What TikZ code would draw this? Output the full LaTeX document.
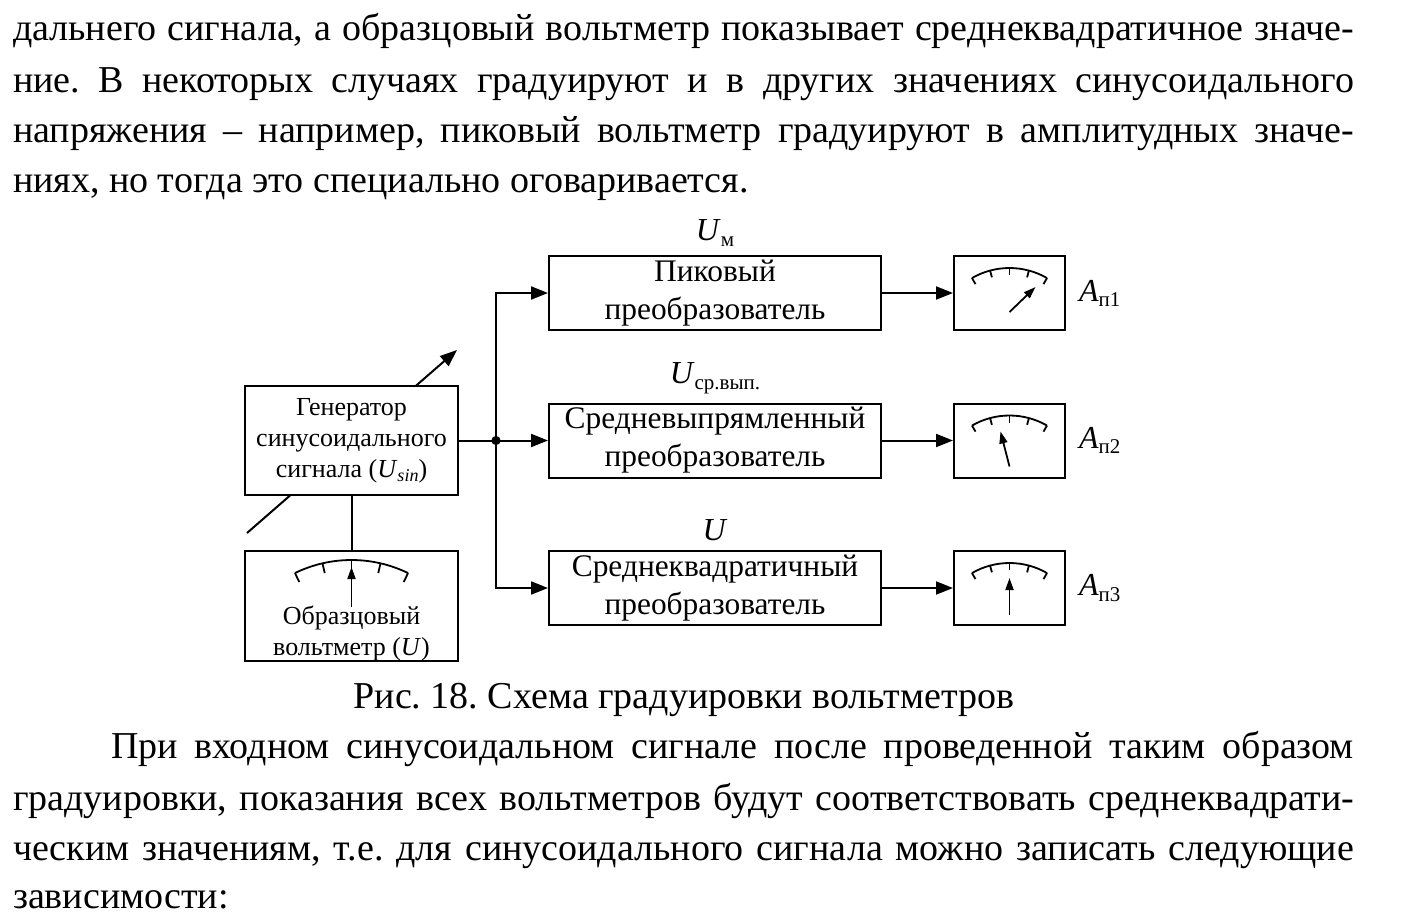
\documentclass[tikz,border=0pt]{standalone}
\usepackage{fontspec}
\setmainfont{Liberation Serif}
\usetikzlibrary{arrows.meta,positioning,calc}
\frenchspacing

\newcommand{\lsub}[2][10.5]{\raisebox{-0.35ex}{\fontsize{#1}{#1}\selectfont #2}}
\newcommand{\fullline}[2][670.5pt]{\makebox[#1][s]{#2}}
% dial scale: centre, radius, half angle, tick length
\newcommand{\dialscale}[4]{%
  \draw[dial] ($(#1)+(270-#3:#2)$) arc[start angle=270-#3, end angle=270+#3, radius=#2];
  \foreach \t in {-2,...,2}
    \draw[dial] ($(#1)+(270+\t*#3/2:#2)$) -- ($(#1)+(270+\t*#3/2:#2-#4)$);
}

\tikzset{
  blk/.style={draw, fill=white, align=center, inner sep=0pt,
    minimum width=166pt, minimum height=37pt, font=\fontsize{15.7}{19}\selectfont},
  meter/.style={draw, fill=white, inner sep=0pt,
    minimum width=55.5pt, minimum height=37pt},
  genbox/.style={draw, fill=white, align=center, inner sep=0pt,
    minimum width=106.5pt, minimum height=54.5pt, font=\fontsize{13}{15.5}\selectfont},
  small/.style={inner sep=0pt, align=center, font=\fontsize{13}{15.5}\selectfont},
  lbl/.style={inner sep=0pt, font=\fontsize{16}{19}\selectfont},
  bodyline/.style={anchor=base west, inner sep=0pt, font=\fontsize{19}{25}\selectfont},
  dial/.style={line width=0.9pt},
  needle/.style={line width=0.9pt, -{Triangle[length=6pt,width=4pt]}},
  feed/.style={-{Triangle[length=8.5pt,width=6.5pt]}},
}

\begin{document}
\begin{tikzpicture}[x=0.5pt, y=-0.5pt, line width=1pt]
    \useasboundingbox (0,0) rectangle (1426,918);
    % text above
    \node[bodyline] (p1) at (12,40) {\fullline{дальнего сигнала, а образцовый вольтметр показывает среднеквадратичное значе-}};
    \node[bodyline] (p2) at (12,92) {\fullline{ние. В некоторых случаях градуируют и в других значениях синусоидального}};
    \node[bodyline] (p3) at (12,142) {\fullline{напряжения – например, пиковый вольтметр градуируют в амплитудных значе-}};
    \node[bodyline] (p4) at (12,192) {ниях, но тогда это специально оговаривается.};

    % generator with tuning arrow
    \coordinate (tuneA) at (247,533);
    \coordinate (tuneB) at (457,350);
    \draw[feed] (tuneA) -- (tuneB);
    \node[genbox] (gen) at (351.5,440.5) {Генератор\\синусоидального\\сигнала (\textit{U}\lsub[9]{\textit{sin}})};

    % reference voltmeter
    \node[meter, minimum width=106.5pt, minimum height=55pt] (ref) at (351.5,606) {};
    \node[small] (reftxt) at (351.5,633) {Образцовый\\вольтметр (\textit{U})};
    \coordinate (d0) at ($(ref)+(0,83)$);
    \dialscale{d0}{129}{26}{10}
    \draw[needle] ($(ref)+(0,1)$) -- ($(ref)+(0,-39)$);
    \draw (gen) -- (ref);

    % converters
    \node[blk] (peak) at (715,293) {Пиковый\\преобразователь};
    \node[blk, below=35.75pt of peak] (avg) {Средневыпрямленный\\преобразователь};
    \node[blk, below=35.75pt of avg] (rms) {Среднеквадратичный\\преобразователь};
    \node[lbl, above=4pt of peak] (upeak) {\textit{U}\lsub{м}};
    \node[lbl, above=4pt of avg] (uavg) {\textit{U}\lsub{ср.вып.}};
    \node[lbl, above=4pt of rms] (urms) {\textit{U}};

    % indicators
    \node[meter, right=35.5pt of peak] (m1) {};
    \node[meter, right=35.5pt of avg] (m2) {};
    \node[meter, right=35.5pt of rms] (m3) {};
    \node[lbl, right=6pt of m1] (a1) {\textit{A}\lsub{п1}};
    \node[lbl, right=6pt of m2] (a2) {\textit{A}\lsub{п2}};
    \node[lbl, right=6pt of m3] (a3) {\textit{A}\lsub{п3}};
    \foreach \m in {1,2,3} {
        \coordinate (d\m) at ($(m\m)+(0,50)$);
        \dialscale{d\m}{75}{30}{7}
    }
    \draw[needle] ($(m1)+(0,19)$) -- ($(m1)+(26,-6)$);
    \draw[needle] ($(m2)+(0,26)$) -- ($(m2)+(-9,-9)$);
    \draw[needle] ($(m3)+(0,27)$) -- ($(m3)+(0,-10)$);

    % connections
    \coordinate[right=18.5pt of gen.east] (split);
    \fill (split) circle[radius=2.3pt];
    \draw[feed] (gen.east) -- (avg.west);
    \draw[feed] (split) |- (peak.west);
    \draw[feed] (split) |- (rms.west);
    \draw[feed] (peak) -- (m1);
    \draw[feed] (avg) -- (m2);
    \draw[feed] (rms) -- (m3);

    % caption and text below
    \node[bodyline, anchor=base] (cap) at (684,708) {Рис. 18. Схема градуировки вольтметров};
    \node[bodyline] (q1) at (110,758) {\fullline[621.5pt]{При входном синусоидальном сигнале после проведенной таким образом}};
    \node[bodyline] (q2) at (12,810) {\fullline{градуировки, показания всех вольтметров будут соответствовать среднеквадрати-}};
    \node[bodyline] (q3) at (12,860) {\fullline{ческим значениям, т.е. для синусоидального сигнала можно записать следующие}};
    \node[bodyline] (q4) at (12,908) {зависимости:};
\end{tikzpicture}
\end{document}
